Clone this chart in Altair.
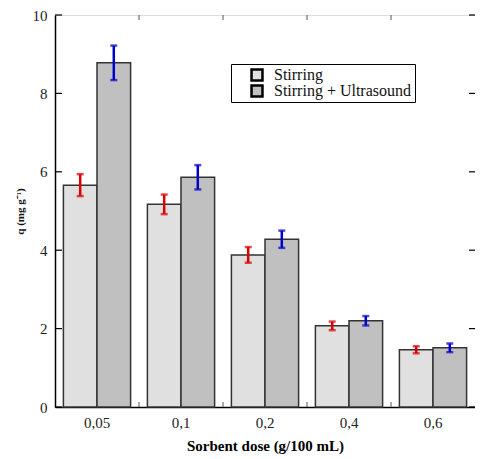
import altair as alt
import pandas as pd

doses = ["0,05", "0,1", "0,2", "0,4", "0,6"]
series = ["Stirring", "Stirring + Ultrasound"]
stirring = [5.66, 5.17, 3.88, 2.07, 1.46]
stirring_err = [0.28, 0.25, 0.20, 0.11, 0.09]
ultrasound = [8.78, 5.86, 4.28, 2.20, 1.51]
ultrasound_err = [0.44, 0.31, 0.22, 0.12, 0.11]
y_ticks = [0, 2, 4, 6, 8, 10]

rows = []
for i, d in enumerate(doses):
    rows.append({"dose": d, "series": series[0], "q": stirring[i],
                 "lo": stirring[i] - stirring_err[i], "hi": stirring[i] + stirring_err[i]})
    rows.append({"dose": d, "series": series[1], "q": ultrasound[i],
                 "lo": ultrasound[i] - ultrasound_err[i], "hi": ultrasound[i] + ultrasound_err[i]})
df = pd.DataFrame(rows)
ticks_df = pd.DataFrame({"v": y_ticks})
bound_df = pd.DataFrame({"dose": doses[1:]})

W, H = 420, 392
FONT = "Liberation Serif"

xenc = alt.X("dose:N", sort=doses, scale=alt.Scale(paddingInner=0, paddingOuter=0),
             axis=alt.Axis(title="Sorbent dose (g/100 mL)", labelAngle=0, ticks=False,
                           labelPadding=8, labelFontSize=15, labelFont=FONT, labelColor="#222",
                           titleFont=FONT, titleFontSize=15, titleFontWeight="bold",
                           titleColor="#000", titlePadding=8, domainColor="#000",
                           domainWidth=1.5))
xoff = alt.XOffset("series:N", sort=series, scale=alt.Scale(paddingOuter=0.25, paddingInner=0))
yscale = alt.Scale(domain=[0, 10], nice=False)
yaxis = alt.Axis(values=y_ticks, ticks=False, grid=False, labelPadding=8, labelFontSize=15,
                 labelFont=FONT, labelColor="#222", title="q (mg g⁻¹)", titleFont=FONT,
                 titleFontSize=11, titleFontWeight="bold", titleColor="#111",
                 titlePadding=7, domainColor="#000", domainWidth=1.5)

bars = alt.Chart(df).mark_bar(stroke="#333", strokeWidth=1.5).encode(
    x=xenc, xOffset=xoff,
    y=alt.Y("q:Q", scale=yscale, axis=yaxis),
    fill=alt.Fill("series:N", sort=series,
                  scale=alt.Scale(domain=series, range=["#e0e0e0", "#c0c0c0"]),
                  legend=alt.Legend(title=None, orient="none", legendX=176, legendY=49,
                                    fillColor="white", strokeColor="#000", padding=3,
                                    symbolType="square", symbolSize=120,
                                    symbolStrokeWidth=2.5, symbolStrokeColor="#000",
                                    symbolOffset=15, labelFont=FONT, labelFontSize=16,
                                    labelColor="#111", rowPadding=0, clipHeight=16,
                                    labelOffset=9)),
)

ecol = alt.Scale(domain=series, range=["#dd0000", "#0000cc"])
stroke = alt.Stroke("series:N", sort=series, scale=ecol, legend=None)

err = alt.Chart(df).mark_rule(strokeWidth=2.5).encode(
    x=alt.X("dose:N", sort=doses), xOffset=xoff,
    y=alt.Y("lo:Q", scale=yscale), y2="hi:Q", stroke=stroke)
cap_lo = alt.Chart(df).mark_tick(thickness=2.5, size=7, orient="horizontal").encode(
    x=alt.X("dose:N", sort=doses), xOffset=xoff,
    y=alt.Y("lo:Q", scale=yscale),
    color=alt.Color("series:N", sort=series, scale=ecol, legend=None))
cap_hi = alt.Chart(df).mark_tick(thickness=2.5, size=7, orient="horizontal").encode(
    x=alt.X("dose:N", sort=doses), xOffset=xoff,
    y=alt.Y("hi:Q", scale=yscale),
    color=alt.Color("series:N", sort=series, scale=ecol, legend=None))

lt = alt.Chart(ticks_df).mark_rule(color="#000", strokeWidth=1.2).encode(
    y=alt.Y("v:Q", scale=yscale), x=alt.value(0), x2=alt.value(7))
rt = alt.Chart(ticks_df).mark_rule(color="#000", strokeWidth=1.2).encode(
    y=alt.Y("v:Q", scale=yscale), x=alt.value(W - 6), x2=alt.value(W))
bt = alt.Chart(bound_df).mark_rule(color="#555", strokeWidth=1).encode(
    x=alt.X("dose:N", sort=doses, bandPosition=0), y=alt.value(H), y2=alt.value(H - 5))
tt = alt.Chart(bound_df).mark_rule(color="#555", strokeWidth=1).encode(
    x=alt.X("dose:N", sort=doses, bandPosition=0), y=alt.value(0), y2=alt.value(5))

chart = alt.layer(bars, err, cap_lo, cap_hi, lt, rt, bt, tt).resolve_scale(
    stroke="independent", color="independent"
).properties(
    width=W, height=H,
    autosize=alt.AutoSizeParams(type="none"),
    padding={"left": 47, "top": 7, "right": 0, "bottom": 52},
).configure_view(stroke="#000", strokeWidth=1.5).configure(
    background="white", font=FONT
)

chart.save("out.html", embed_options={"renderer": "svg", "actions": False})
